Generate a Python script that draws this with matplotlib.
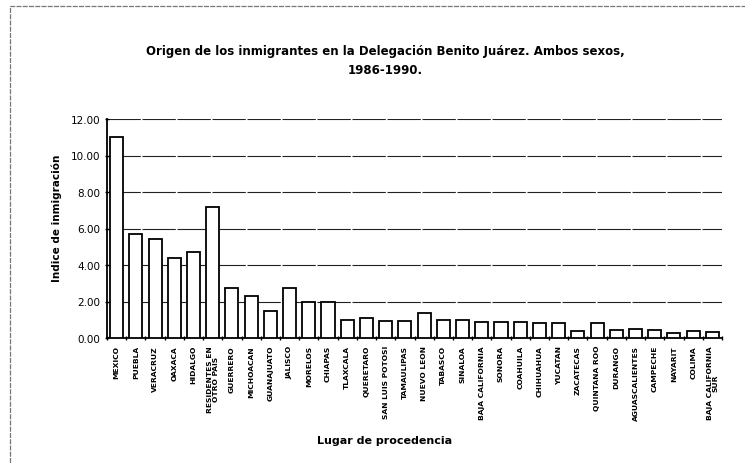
import matplotlib.pyplot as plt
from matplotlib.patches import Rectangle

# lugares de procedencia
lugares = ["MEXICO", "PUEBLA", "VERACRUZ", "OAXACA", "HIDALGO",
           "RESIDENTES EN\nOTRO PAIS", "GUERRERO", "MICHOACAN", "GUANAJUATO",
           "JALISCO", "MORELOS", "CHIAPAS", "TLAXCALA", "QUERETARO",
           "SAN LUIS POTOSI", "TAMAULIPAS", "NUEVO LEON", "TABASCO", "SINALOA",
           "BAJA CALIFORNIA", "SONORA", "COAHUILA", "CHIHUAHUA", "YUCATAN",
           "ZACATECAS", "QUINTANA ROO", "DURANGO", "AGUASCALIENTES", "CAMPECHE",
           "NAYARIT", "COLIMA", "BAJA CALIFORNIA\nSUR"]

# indice de inmigracion
indice = [11.0, 5.7, 5.4, 4.4, 4.7, 7.2, 2.75, 2.3, 1.5, 2.75, 2.0, 2.0,
          1.0, 1.1, 0.95, 0.95, 1.35, 1.0, 1.0, 0.9, 0.9, 0.9, 0.8, 0.8,
          0.4, 0.8, 0.45, 0.5, 0.45, 0.3, 0.4, 0.35]

yticks = [0, 2, 4, 6, 8, 10, 12]

fig = plt.figure(figsize=(7.45, 4.64), dpi=100)
ax = fig.add_axes([107 / 745, 1 - 339 / 464, 615 / 745, 219 / 464])

# marco de la figura
fig.patches.append(Rectangle((10 / 745, -0.05), 1.2, 1 - 7 / 464 + 0.05,
                             transform=fig.transFigure, fill=False,
                             edgecolor="#777777", linewidth=0.9, linestyle=(0, (4, 1))))

x = range(len(lugares))
ax.bar(x, indice, width=0.68, color="white", edgecolor="black", linewidth=1.3, zorder=3)

ax.set_xlim(-0.5, len(lugares) - 0.5)
ax.set_ylim(0, 12)
ax.set_yticks(yticks)
ax.set_yticklabels(["%.2f" % v for v in yticks], fontsize=7.5)
for v in yticks[1:]:
    ax.axhline(v, color="#222222", linewidth=0.8, linestyle=(0, (30, 1.5)), zorder=1)

ax.set_xticks(x)
ax.set_xticklabels(lugares, rotation=90, fontsize=5.4, fontweight="bold",
                   linespacing=0.95)
ax.set_xticks([i + 0.5 for i in range(-1, len(lugares))], minor=True)
ax.tick_params(axis="x", which="major", length=0, pad=5)
ax.tick_params(axis="x", which="minor", length=3, width=1.0, direction="inout")
ax.tick_params(axis="y", length=3, width=1.0, direction="inout")

for s in ["top", "right"]:
    ax.spines[s].set_visible(False)
ax.spines["left"].set_linewidth(1.3)
ax.spines["bottom"].set_linewidth(1.3)

ax.set_ylabel("Indice de inmigración", fontsize=7.5, fontweight="bold")
ax.yaxis.set_label_coords(-45 / 615, 0.55)

fig.text(385 / 745, 1 - 51 / 464,
         "Origen de los inmigrantes en la Delegación Benito Juárez. Ambos sexos,",
         ha="center", va="center", fontsize=8.5, fontweight="bold")
fig.text(385 / 745, 1 - 71 / 464, "1986-1990.",
         ha="center", va="center", fontsize=8.5, fontweight="bold")
fig.text(385 / 745, 1 - 441 / 464, "Lugar de procedencia",
         ha="center", va="center", fontsize=8, fontweight="bold")

fig.savefig("out.png", dpi=100)
